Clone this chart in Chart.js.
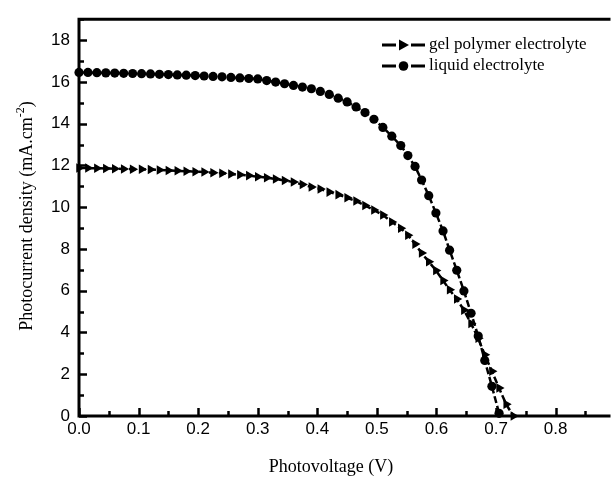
<!DOCTYPE html>
<html><head><meta charset="utf-8">
<script src="https://cdn.jsdelivr.net/npm/chart.js@4"></script>
<style>html,body{margin:0;padding:0;background:#fff;}#wrap{width:613px;height:479px;}</style>
</head><body><div id="wrap"><canvas id="c" width="613" height="479"></canvas></div>
<script>
const seriesNames = ['gel polymer electrolyte', 'liquid electrolyte'];
const xTickLabels = ['0.0','0.1','0.2','0.3','0.4','0.5','0.6','0.7','0.8'];
const yTickLabels = ['0','2','4','6','8','10','12','14','16','18'];
const xTitle = 'Photovoltage (V)';
const yTitleMain = 'Photocurrent density (mA.cm';
const yTitleSup = '-2';
const yTitleEnd = ')';

const voltageGel = [0.000,0.015,0.030,0.045,0.060,0.075,0.090,0.105,0.120,0.135,0.150,0.165,0.180,0.195,0.210,0.225,0.240,0.255,0.270,0.285,0.300,0.315,0.330,0.345,0.360,0.375,0.390,0.405,0.420,0.435,0.450,0.465,0.480,0.495,0.510,0.525,0.540,0.552,0.564,0.575,0.587,0.599,0.611,0.622,0.634,0.646,0.658,0.670,0.681,0.693,0.705,0.717,0.729];
const currentGel = [11.87,11.87,11.86,11.85,11.84,11.83,11.82,11.81,11.80,11.78,11.76,11.74,11.72,11.70,11.68,11.65,11.62,11.59,11.55,11.51,11.46,11.41,11.35,11.28,11.20,11.08,10.97,10.87,10.72,10.60,10.45,10.29,10.08,9.86,9.62,9.29,8.99,8.66,8.23,7.80,7.39,6.97,6.49,6.04,5.60,5.07,4.43,3.72,2.93,2.14,1.34,0.56,0.00];
const voltageLiquid = [0.000,0.015,0.030,0.045,0.060,0.075,0.090,0.105,0.120,0.135,0.150,0.165,0.180,0.195,0.210,0.225,0.240,0.255,0.270,0.285,0.300,0.315,0.330,0.345,0.360,0.375,0.390,0.405,0.420,0.435,0.450,0.465,0.480,0.495,0.510,0.525,0.540,0.552,0.564,0.575,0.587,0.599,0.611,0.622,0.634,0.646,0.658,0.670,0.681,0.693,0.705];
const currentLiquid = [16.45,16.45,16.44,16.43,16.42,16.41,16.40,16.39,16.38,16.36,16.35,16.33,16.32,16.30,16.28,16.26,16.24,16.21,16.19,16.16,16.14,16.06,15.99,15.91,15.83,15.75,15.67,15.54,15.40,15.22,15.04,14.80,14.53,14.21,13.82,13.40,12.95,12.47,11.95,11.30,10.55,9.72,8.86,7.94,6.98,5.99,4.92,3.83,2.66,1.42,0.13];

const toPts = (xs, ys) => xs.map((v, i) => ({x: v, y: ys[i]}));

const frame = {
  id: 'frame',
  beforeDatasetsDraw(chart) {
    const {ctx, chartArea: a, scales: {x, y}} = chart;
    ctx.save();
    ctx.strokeStyle = '#000';
    ctx.lineWidth = 3;
    ctx.beginPath();
    ctx.moveTo(a.right + 3, a.top);
    ctx.lineTo(a.left, a.top);
    ctx.lineTo(a.left, a.bottom);
    ctx.lineTo(a.right + 3, a.bottom);
    ctx.stroke();
    ctx.lineWidth = 2.5;
    ctx.beginPath();
    x.ticks.forEach(t => {
      const major = Math.abs(t.value * 10 - Math.round(t.value * 10)) < 1e-6;
      const px = Math.round(x.getPixelForValue(t.value)) + 0.5;
      ctx.moveTo(px, a.bottom);
      ctx.lineTo(px, a.bottom - (major ? 8 : 5));
    });
    y.ticks.forEach(t => {
      const major = Math.round(t.value) % 2 === 0;
      const py = Math.round(y.getPixelForValue(t.value)) + 0.5;
      ctx.moveTo(a.left, py);
      ctx.lineTo(a.left + (major ? 8 : 5), py);
    });
    ctx.stroke();
    ctx.restore();
  },
  afterDraw(chart) {
    const {ctx} = chart;
    ctx.save();
    ctx.fillStyle = '#000';
    ctx.font = '18px "Liberation Serif"';
    ctx.textAlign = 'center';
    ctx.textBaseline = 'middle';
    ctx.fillText(xTitle, 331, 467);
    ctx.translate(27, 216);
    ctx.rotate(-Math.PI / 2);
    ctx.textAlign = 'left';
    ctx.textBaseline = 'middle';
    const fMain = '18px "Liberation Serif"', fSup = '12px "Liberation Serif"';
    ctx.font = fMain; const w1 = ctx.measureText(yTitleMain).width; const w3 = ctx.measureText(yTitleEnd).width;
    ctx.font = fSup; const w2 = ctx.measureText(yTitleSup).width;
    const sx = -(w1 + w2 + w3) / 2;
    ctx.font = fMain; ctx.fillText(yTitleMain, sx, 0);
    ctx.font = fSup; ctx.fillText(yTitleSup, sx + w1, -6);
    ctx.font = fMain; ctx.fillText(yTitleEnd, sx + w1 + w2, 0);
    ctx.restore();

    ctx.save();
    const rows = [{y: 45, style: 'tri'}, {y: 66, style: 'circ'}];
    rows.forEach((r, i) => {
      ctx.strokeStyle = '#000';
      ctx.lineWidth = 3;
      ctx.beginPath();
      ctx.moveTo(382, r.y); ctx.lineTo(396, r.y);
      ctx.moveTo(411, r.y); ctx.lineTo(425, r.y);
      ctx.stroke();
      ctx.fillStyle = '#000';
      ctx.beginPath();
      if (r.style === 'tri') {
        ctx.moveTo(409, r.y); ctx.lineTo(399, r.y - 5.5); ctx.lineTo(399, r.y + 5.5); ctx.closePath();
      } else {
        ctx.arc(403.5, r.y, 4.8, 0, Math.PI * 2);
      }
      ctx.fill();
      ctx.font = '17px "Liberation Serif"';
      ctx.textAlign = 'left';
      ctx.textBaseline = 'middle';
      ctx.fillText(seriesNames[i], 429, r.y);
    });
    ctx.restore();
  }
};

new Chart(document.getElementById('c'), {
  type: 'scatter',
  data: {
    datasets: [
      {
        label: seriesNames[0],
        data: toPts(voltageGel, currentGel),
        showLine: true,
        borderColor: '#000',
        backgroundColor: '#000',
        borderWidth: 2.5,
        borderDash: [7, 3],
        pointStyle: 'triangle',
        rotation: 90,
        pointRadius: 5.5,
        pointBorderWidth: 0,
        clip: 12
      },
      {
        label: seriesNames[1],
        data: toPts(voltageLiquid, currentLiquid),
        showLine: true,
        borderColor: '#000',
        backgroundColor: '#000',
        borderWidth: 2.5,
        borderDash: [7, 3],
        pointStyle: 'circle',
        pointRadius: 4.6,
        pointBorderWidth: 0,
        clip: 12
      }
    ]
  },
  options: {
    responsive: false,
    animation: false,
    devicePixelRatio: 1,
    layout: {padding: {top: 15, right: 0, left: 0, bottom: 0}},
    plugins: {legend: {display: false}, tooltip: {enabled: false}},
    scales: {
      x: {
        type: 'linear', min: 0, max: 0.887,
        afterBuildTicks(s) {
          const t = [];
          for (let i = 0; i <= 17; i++) t.push({value: i * 0.05});
          s.ticks = t;
        },
        afterFit(s) { s.height = 63; },
        grid: {display: false, drawTicks: false},
        border: {display: false},
        ticks: {
          autoSkip: false, maxRotation: 0, padding: 3,
          color: '#000', font: {family: '"Liberation Sans"', size: 17},
          callback: (v, i) => (i % 2 === 0 ? (xTickLabels[i / 2] || '') : '')
        }
      },
      y: {
        type: 'linear', min: 0, max: 19,
        afterBuildTicks(s) {
          const t = [];
          for (let i = 0; i <= 19; i++) t.push({value: i});
          s.ticks = t;
        },
        afterFit(s) { s.width = 79; },
        grid: {display: false, drawTicks: false},
        border: {display: false},
        ticks: {
          autoSkip: false, padding: 9,
          color: '#000', font: {family: '"Liberation Sans"', size: 17},
          callback: (v) => (v % 2 === 0 ? (yTickLabels[v / 2] || '') : '')
        }
      }
    }
  },
  plugins: [frame]
});
</script>
</body></html>
